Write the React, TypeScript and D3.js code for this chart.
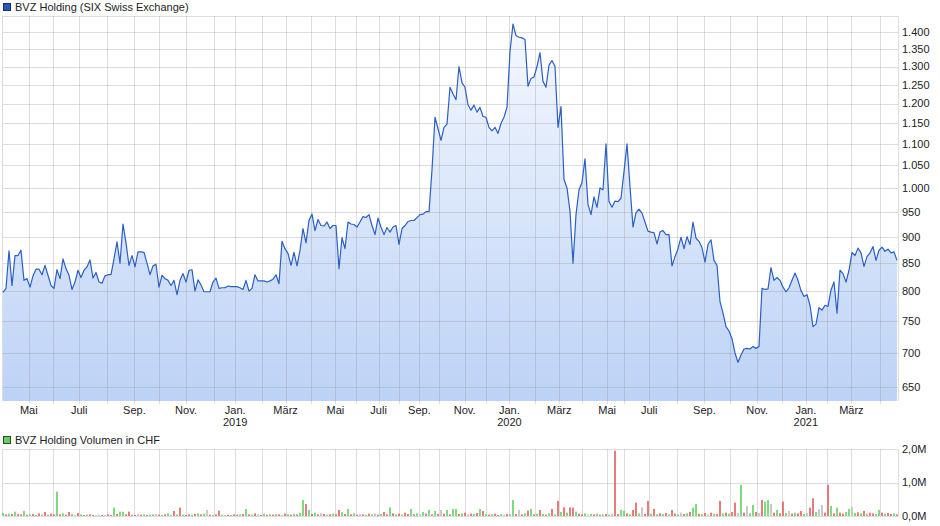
import React from 'react';
import * as d3 from 'd3';

// Closing prices (CHF), one point per ~2-3 trading days, Apr 2018 – Apr 2021
const prices: number[] = [
  798, 805, 873, 810, 864, 864, 874, 819, 822, 807,
  827, 839, 839, 829, 846, 828, 810, 805, 838, 822,
  858, 840, 828, 803, 816, 837, 824, 837, 843, 856,
  823, 833, 816, 814, 827, 829, 829, 858, 890, 850,
  925, 888, 846, 864, 843, 871, 871, 870, 850, 829,
  845, 848, 807, 828, 822, 819, 810, 819, 794, 819,
  831, 816, 837, 838, 800, 820, 811, 799, 799, 799,
  816, 823, 805, 806, 806, 809, 808, 808, 808, 806,
  803, 819, 800, 805, 829, 818, 818, 818, 816, 818,
  821, 829, 813, 891, 877, 868, 846, 870, 845, 874,
  916, 888, 932, 945, 912, 934, 922, 921, 929, 916,
  922, 922, 840, 898, 877, 929, 925, 924, 919, 929,
  940, 938, 944, 922, 904, 937, 919, 904, 918, 909,
  919, 922, 885, 916, 922, 930, 932, 932, 938, 944,
  945, 950, 950, 1040, 1165, 1137, 1108, 1140, 1148, 1243,
  1225, 1210, 1300, 1255, 1243, 1197, 1183, 1196, 1178, 1190,
  1167, 1165, 1140, 1131, 1140, 1125, 1150, 1165, 1191, 1343,
  1425, 1390, 1385, 1383, 1378, 1246, 1267, 1271, 1300, 1340,
  1259, 1243, 1304, 1317, 1300, 1140, 1192, 1019, 1000, 951,
  850, 944, 996, 1012, 1065, 965, 944, 981, 959, 1000,
  996, 1100, 971, 959, 972, 971, 978, 1036, 1100, 1003,
  919, 948, 955, 947, 929, 911, 909, 908, 886, 909,
  912, 904, 904, 845, 862, 877, 899, 877, 900, 885,
  929, 897, 891, 879, 852, 885, 894, 855, 846, 782,
  763, 741, 734, 722, 700, 686, 697, 706, 707, 706,
  710, 707, 710, 805, 803, 804, 842, 819, 824, 819,
  807, 799, 806, 819, 832, 819, 801, 791, 794, 776,
  741, 745, 772, 768, 776, 774, 802, 816, 763, 837,
  831, 816, 837, 870, 864, 878, 869, 844, 862, 869,
  881, 855, 874, 880, 872, 876, 869, 871, 855,
];

// Volume in million CHF, same points
const volumes: number[] = [
  0.09, 0.05, 0.07, 0.06, 0.13, 0.06, 0.05, 0.15, 0.04, 0.05,
  0.06, 0.03, 0.08, 0.05, 0.12, 0.04, 0.07, 0.05, 0.73, 0.05,
  0.08, 0.04, 0.12, 0.06, 0.03, 0.09, 0.05, 0.03, 0.04, 0.05,
  0.03, 0.02, 0.04, 0.03, 0.02, 0.05, 0.03, 0.25, 0.06, 0.13,
  0.13, 0.05, 0.13, 0.04, 0.03, 0.06, 0.04, 0.05, 0.03, 0.04,
  0.05, 0.06, 0.04, 0.03, 0.05, 0.08, 0.04, 0.15, 0.05, 0.25,
  0.04, 0.03, 0.05, 0.04, 0.06, 0.08, 0.05, 0.07, 0.18, 0.04,
  0.03, 0.05, 0.16, 0.04, 0.03, 0.04, 0.03, 0.05, 0.04, 0.05,
  0.06, 0.21, 0.05, 0.04, 0.08, 0.05, 0.03, 0.07, 0.04, 0.05,
  0.04, 0.06, 0.05, 0.03, 0.07, 0.05, 0.04, 0.06, 0.05, 0.09,
  0.48, 0.36, 0.18, 0.06, 0.10, 0.05, 0.08, 0.06, 0.04, 0.05,
  0.07, 0.05, 0.18, 0.11, 0.06, 0.21, 0.05, 0.08, 0.04, 0.06,
  0.05, 0.04, 0.07, 0.05, 0.08, 0.04, 0.06, 0.12, 0.05, 0.26,
  0.08, 0.05, 0.07, 0.04, 0.10, 0.06, 0.21, 0.05, 0.08, 0.06,
  0.12, 0.07, 0.18, 0.05, 0.15, 0.06, 0.18, 0.07, 0.18, 0.05,
  0.21, 0.21, 0.06, 0.08, 0.10, 0.05, 0.07, 0.06, 0.09, 0.21,
  0.15, 0.06, 0.04, 0.05, 0.07, 0.03, 0.05, 0.04, 0.06, 0.05,
  0.48, 0.06, 0.18, 0.05, 0.08, 0.16, 0.21, 0.05, 0.07, 0.18,
  0.06, 0.04, 0.08, 0.21, 0.05, 0.45, 0.12, 0.26, 0.10, 0.26,
  0.25, 0.13, 0.07, 0.05, 0.08, 0.04, 0.06, 0.05, 0.07, 0.04,
  0.05, 0.06, 0.04, 0.07, 1.95, 0.06, 0.18, 0.16, 0.08, 0.05,
  0.18, 0.40, 0.08, 0.26, 0.06, 0.45, 0.07, 0.21, 0.05, 0.08,
  0.06, 0.09, 0.05, 0.18, 0.07, 0.05, 0.10, 0.06, 0.08, 0.12,
  0.25, 0.36, 0.07, 0.06, 0.09, 0.05, 0.10, 0.07, 0.06, 0.45,
  0.08, 0.10, 0.07, 0.12, 0.40, 0.09, 0.93, 0.10, 0.30, 0.08,
  0.33, 0.12, 0.09, 0.48, 0.43, 0.48, 0.36, 0.10, 0.18, 0.08,
  0.43, 0.09, 0.15, 0.07, 0.10, 0.08, 0.15, 0.06, 0.09, 0.25,
  0.53, 0.12, 0.20, 0.33, 0.10, 0.93, 0.30, 0.08, 0.25, 0.10,
  0.07, 0.12, 0.21, 0.26, 0.09, 0.11, 0.08, 0.15, 0.07, 0.10,
  0.08, 0.06, 0.18, 0.10, 0.07, 0.09, 0.06, 0.08, 0.05,
];

// g = up, r = down, n = unchanged
const volumeDir = (
  'grgrgrrgrg rgrnrgrrgr grrgnrgrgr rgnrgrrgrg grrgrnrgrg ' +
  'gnrgrgnrgr grrgrgrgnr grrgnrgrrg rgrgrnrgrg rgrnrgrgrg ' +
  'grgrgrnrgr grrgrgrgrn rgrgnrgrrg rgrgrrgrgn grgrgrnrgr ' +
  'ggrgrnrgrg rgrgrrgnrg grnrgrgrgr grgrgrgrgr rgrrgngrgr ' +
  'grgnrrggrg rrgnrrgrgr grgrrgnrgr ggrgrnrgrr grgrrngrng ' +
  'grnrggnrgr rgnrgrrgnr rgnnrrgrgr rggngrgrgr rggrgrrgr'
).replace(/ /g, '');

// Position (in point index) of the first trading day of each month, May 2018 – Apr 2021
const monthStarts: number[] = [
  8.6, 16.8, 25.4, 34.6, 43.8, 52.1, 61.0, 70.3,
  77.4, 86.2, 94.2, 102.8, 110.8, 117.8, 125.2, 132.1, 138.8, 145.2, 153.9, 161.1,
  168.8, 177.4, 185.4, 193.1, 201.4, 207.1, 215.4, 224.8, 233.8, 242.4, 251.4, 259.8,
  267.6, 274.8, 282.8, 292.2,
];
const monthLabels: string[] = [
  'Mai', '', 'Juli', '', 'Sep.', '', 'Nov.', '',
  'Jan.', '', 'März', '', 'Mai', '', 'Juli', '', 'Sep.', '', 'Nov.', '',
  'Jan.', '', 'März', '', 'Mai', '', 'Juli', '', 'Sep.', '', 'Nov.', '',
  'Jan.', '', 'März', '',
];
const yearLabels: string[] = [
  '', '', '', '', '', '', '', '',
  '2019', '', '', '', '', '', '', '', '', '', '', '',
  '2020', '', '', '', '', '', '', '', '', '', '', '',
  '2021', '', '', '',
];
const priceTicks: number[] = [650, 700, 750, 800, 850, 900, 950, 1000, 1050, 1100, 1150, 1200, 1250, 1300, 1350, 1400];
const volumeTicks: number[] = [0, 1, 2];

const de = d3.formatLocale({ decimal: ',', thousands: '.', grouping: [3], currency: ['', ' CHF'] });
const fmtPrice = de.format(',');
const fmtVol = de.format(',.1f');

const FONT = '"Liberation Sans", Arial, sans-serif';

export default function App() {
  const W = 940, H = 526;
  const pL = 3, pR = 898, pT = 16, pB = 401;
  const vT = 449, vB = 516;

  const x = d3.scaleLinear().domain([0, prices.length - 1]).range([pL, pR - 1]);
  const y = d3.scaleLog().domain([631, 1450]).range([pB, pT]);
  const yv = d3.scaleLinear().domain([0, 2]).range([vB, vT]);

  const line = d3.line<number>().x((_, i) => x(i)).y(d => y(d));
  const area = d3.area<number>().x((_, i) => x(i)).y0(pB).y1(d => y(d));

  const gridColor = 'rgba(150,150,150,0.32)';
  const snap = (v: number) => Math.round(v) + 0.5;
  const dirColor: Record<string, string> = { g: '#5ed35e', r: '#e25c5c', n: '#bcbcbc' };

  return (
    <svg width={W} height={H} style={{ position: 'fixed', left: 0, top: 0, background: '#fff' }}
      fontFamily={FONT}>
      <defs>
        <linearGradient id="fillGrad" gradientUnits="userSpaceOnUse" x1={0} y1={pT} x2={0} y2={pB}>
          <stop offset="0" stopColor="#f6f9ff" />
          <stop offset="1" stopColor="#bcd2f6" />
        </linearGradient>
      </defs>

      {/* legend price */}
      <rect x={3.5} y={3.5} width={7} height={7} fill="#2457c5" stroke="#1a2f66" strokeWidth={1} />
      <text x={15} y={10.5} fontSize={11} fill="#222">BVZ Holding (SIX Swiss Exchange)</text>

      {/* price area and line */}
      <path d={area(prices) ?? ''} fill="url(#fillGrad)" />

      {/* grid */}
      {priceTicks.map(t => (
        <line key={'h' + t} x1={pL} x2={pR} y1={snap(y(t))} y2={snap(y(t))} stroke={gridColor} />
      ))}
      <line x1={pL} x2={pR} y1={pT + 0.5} y2={pT + 0.5} stroke={gridColor} />
      {monthStarts.map((m, i) => (
        <line key={'v' + i} x1={snap(x(m))} x2={snap(x(m))} y1={pT} y2={pB + 3} stroke={gridColor} />
      ))}
      <line x1={pL - 0.5} x2={pL - 0.5} y1={pT} y2={pB} stroke={gridColor} />
      <line x1={pR + 0.5} x2={pR + 0.5} y1={pT} y2={pB} stroke={gridColor} />

      <path d={line(prices) ?? ''} fill="none" stroke="#2a5fc4" strokeWidth={1.2} strokeLinejoin="round" />

      {/* price axis labels */}
      {priceTicks.map(t => (
        <text key={'pl' + t} x={902} y={y(t)} dy="0.35em" fontSize={11} fill="#222">{fmtPrice(t)}</text>
      ))}

      {/* month labels */}
      {monthStarts.map((m, i) => monthLabels[i] ? (
        <text key={'ml' + i} x={x(m)} y={414} fontSize={11} fill="#222" textAnchor="middle">{monthLabels[i]}</text>
      ) : null)}
      {monthStarts.map((m, i) => yearLabels[i] ? (
        <text key={'yl' + i} x={x(m)} y={426} fontSize={11} fill="#222" textAnchor="middle">{yearLabels[i]}</text>
      ) : null)}

      {/* legend volume */}
      <rect x={3.5} y={436.5} width={7} height={7} fill="#66cc66" stroke="#2d4d2d" strokeWidth={1} />
      <text x={15} y={443.5} fontSize={11} fill="#222">BVZ Holding Volumen in CHF</text>

      {/* volume grid */}
      {volumeTicks.map(t => (
        <line key={'vh' + t} x1={pL} x2={pR} y1={snap(yv(t))} y2={snap(yv(t))} stroke={gridColor} />
      ))}
      {monthStarts.map((m, i) => (
        <line key={'vv' + i} x1={snap(x(m))} x2={snap(x(m))} y1={vT} y2={vB} stroke={gridColor} />
      ))}
      <line x1={pL - 0.5} x2={pL - 0.5} y1={vT} y2={vB} stroke={gridColor} />
      <line x1={pR + 0.5} x2={pR + 0.5} y1={vT} y2={vB} stroke={gridColor} />

      {/* volume bars */}
      {volumes.map((v, i) => (
        <rect key={'b' + i} x={x(i) - 0.8} width={1.6} y={yv(v)} height={Math.max(0.5, vB - yv(v))}
          fill={dirColor[volumeDir[i]] ?? '#bcbcbc'} />
      ))}

      {/* volume axis labels */}
      {volumeTicks.map(t => (
        <text key={'vl' + t} x={902} y={yv(t)} dy="0.35em" fontSize={11} fill="#222">{fmtVol(t) + 'M'}</text>
      ))}
    </svg>
  );
}
